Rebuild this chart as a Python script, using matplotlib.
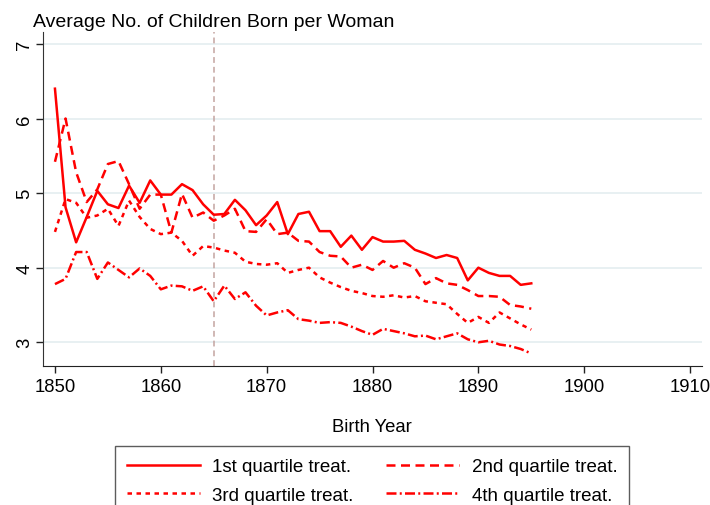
import numpy as np
import matplotlib.pyplot as plt

# birth years
years = np.arange(1850, 1896)

# average children born per woman, by treatment quartile
q1 = [6.40, 4.81, 4.34, 4.68, 5.03, 4.85, 4.80, 5.10, 4.87, 5.17,
      4.98, 4.98, 5.12, 5.04, 4.85, 4.71, 4.72, 4.91, 4.77, 4.57,
      4.70, 4.88, 4.45, 4.72, 4.75, 4.49, 4.49, 4.28, 4.43, 4.24,
      4.41, 4.35, 4.35, 4.36, 4.24, 4.19, 4.13, 4.17, 4.13, 3.83,
      4.00, 3.93, 3.89, 3.89, 3.77, 3.79]
q2 = [5.42, 6.00, 5.28, 4.88, 5.05, 5.39, 5.43, 5.12, 4.79, 4.98,
      4.98, 4.47, 4.99, 4.67, 4.74, 4.63, 4.70, 4.79, 4.49, 4.48,
      4.65, 4.45, 4.47, 4.36, 4.35, 4.21, 4.16, 4.15, 4.00, 4.04,
      3.97, 4.09, 4.00, 4.06, 4.00, 3.78, 3.86, 3.79, 3.77, 3.70,
      3.62, 3.62, 3.61, 3.50, 3.48, 3.45]
q3 = [4.48, 4.92, 4.87, 4.67, 4.70, 4.79, 4.56, 4.90, 4.68, 4.52,
      4.45, 4.47, 4.36, 4.16, 4.29, 4.27, 4.23, 4.20, 4.08, 4.05,
      4.04, 4.06, 3.93, 3.97, 4.00, 3.87, 3.80, 3.74, 3.69, 3.66,
      3.62, 3.61, 3.63, 3.60, 3.62, 3.55, 3.53, 3.51, 3.38, 3.26,
      3.34, 3.26, 3.40, 3.32, 3.24, 3.17]
q4 = [3.78, 3.85, 4.21, 4.21, 3.85, 4.07, 3.97, 3.87, 3.99, 3.89,
      3.71, 3.76, 3.75, 3.69, 3.75, 3.55, 3.76, 3.58, 3.67, 3.49,
      3.36, 3.40, 3.43, 3.31, 3.29, 3.26, 3.27, 3.26, 3.21, 3.15,
      3.10, 3.18, 3.15, 3.12, 3.08, 3.09, 3.04, 3.08, 3.12, 3.04,
      3.00, 3.02, 2.97, 2.95, 2.91, 2.85]

labels = ['1st quartile treat.', '2nd quartile treat.',
          '3rd quartile treat.', '4th quartile treat.']
xticks = [1850, 1860, 1870, 1880, 1890, 1900, 1910]
yticks = [3, 4, 5, 6, 7]
reform_year = 1865

plt.rcParams['font.family'] = ['Liberation Sans', 'DejaVu Sans']

fig = plt.figure(figsize=(7.1, 5.06), dpi=100)
ax = fig.add_axes([43 / 710, 1 - 366.7 / 506, (701.7 - 43) / 710, (366.7 - 33) / 506])

# horizontal grid
for t in yticks:
    ax.axhline(t, color='#e6eff1', lw=1.3, zorder=0)

ax.axvline(reform_year, color='#c4a4a0', lw=1.1, dashes=(3.8, 2.6), zorder=1)

lw = 1.8
h1, = ax.plot(years, q1, color='red', lw=lw, ls='-')
h2, = ax.plot(years, q2, color='red', lw=lw, dashes=(3.6, 2.2))
h3, = ax.plot(years, q3, color='red', lw=lw, dashes=(1.8, 1.8))
h4, = ax.plot(years, q4, color='red', lw=lw, dashes=(4, 1.3, 0.8, 1.3))

ax.set_xlim(1848.87, 1911.1)
ax.set_ylim(2.686, 7.16)
ax.set_xticks(xticks)
ax.set_yticks(yticks)
ax.tick_params(axis='both', direction='out', length=5, width=1, labelsize=13.3, color='#222222')
ax.tick_params(axis='y', labelrotation=90, pad=2)
for lab in ax.get_yticklabels():
    lab.set_va('center')
ax.spines['top'].set_visible(False)
ax.spines['right'].set_visible(False)
ax.spines['left'].set_color('#333333')
ax.spines['bottom'].set_color('#222222')

ax.set_xlabel('Birth Year', fontsize=13.3, labelpad=17)
fig.text(33 / 710, 1 - 27 / 506, 'Average No. of Children Born per Woman',
         fontsize=14, ha='left', va='baseline')

# matplotlib fills legend columns first, so reorder for row-wise layout
leg = fig.legend([h1, h3, h2, h4], [labels[0], labels[2], labels[1], labels[3]],
                 loc='upper center', bbox_to_anchor=(372 / 710, 1 - 447 / 506), ncol=2,
                 fontsize=13.5, frameon=True, fancybox=False, edgecolor='#333333',
                 handlelength=3.9, handletextpad=0.65, columnspacing=1.75,
                 borderpad=0.65, labelspacing=0.6, borderaxespad=0)
leg.get_frame().set_linewidth(1.0)

fig.savefig('out.png', dpi=100)
